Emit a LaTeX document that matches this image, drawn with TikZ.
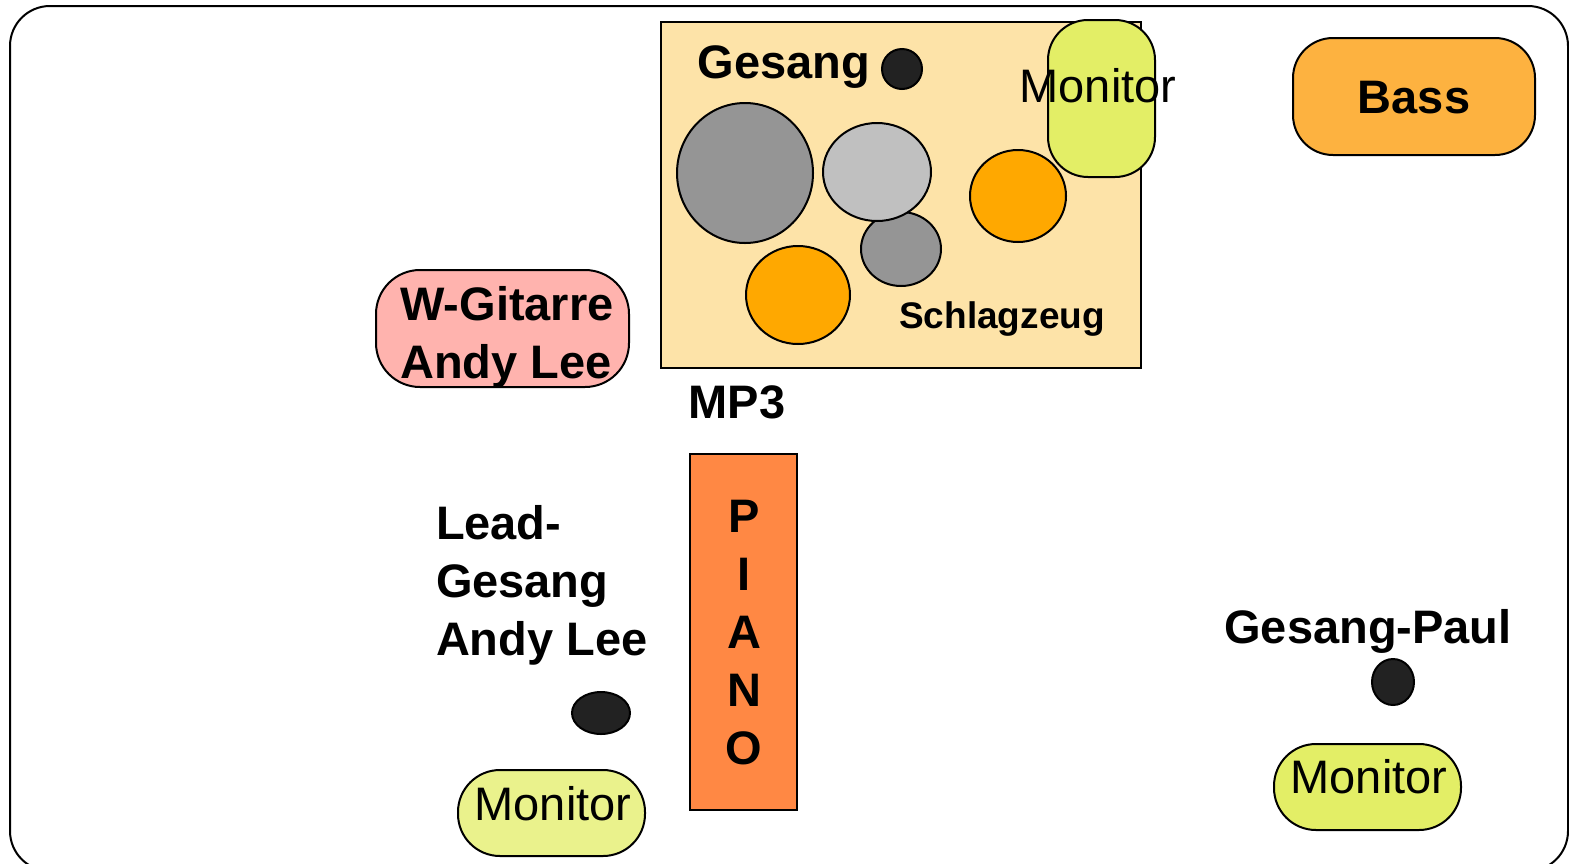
\documentclass[tikz,border=0pt]{standalone}
\usepackage{fontspec}
\setmainfont{Liberation Sans}
\definecolor{drumbg}{HTML}{FDE3A8}
\definecolor{monfill}{HTML}{E3EE66}
\definecolor{monlight}{HTML}{EAF28C}
\definecolor{gitfill}{HTML}{FFB3AE}
\definecolor{bassfill}{HTML}{FDB240}
\definecolor{pianofill}{HTML}{FF8844}
\definecolor{drumorange}{HTML}{FFA800}
\definecolor{drumgray}{HTML}{959595}
\definecolor{drumlight}{HTML}{C0C0C0}
\definecolor{micfill}{HTML}{222222}
\begin{document}
\begin{tikzpicture}[x=0.5pt,y=-0.5pt,line width=1pt,
    bigtext/.style={font=\bfseries\fontsize{23.5}{29}\selectfont,inner sep=0pt,anchor=base},
    montext/.style={font=\fontsize{23.5}{29}\selectfont,inner sep=0pt,anchor=base},
    smalltext/.style={font=\bfseries\fontsize{18.5}{22}\selectfont,inner sep=0pt,anchor=base}]
    \useasboundingbox (0,0) rectangle (1569,863);
    \begin{scope}
    \clip (0,0) rectangle (1569,863);
    \draw[rounded corners=20pt] (10,6) rectangle (1568,871);
    \end{scope}
    % Schlagzeug
    \filldraw[fill=drumbg] (661,22) rectangle (1141,368);
    \filldraw[fill=drumgray] (745,173) ellipse [x radius=68, y radius=70];
    \filldraw[fill=drumgray] (901,249) ellipse [x radius=40, y radius=37];
    \filldraw[fill=drumlight] (877,172) ellipse [x radius=54, y radius=49];
    \filldraw[fill=drumorange] (798,295) ellipse [x radius=52, y radius=49];
    \filldraw[fill=drumorange] (1018,196) ellipse [x radius=48, y radius=46];
    \filldraw[fill=micfill] (902,69) circle [radius=20];
    \node[bigtext] (gesang) at (784,78) {Gesang};
    \node[smalltext] (schlagzeug) at (1002,328) {Schlagzeug};
    \filldraw[fill=monfill,rounded corners=20pt] (1048,20) rectangle (1155,177);
    \node[montext] (montop) at (1098,102) {Monitor};
    % Bass
    \filldraw[fill=bassfill,rounded corners=20pt] (1293,38) rectangle (1535,155);
    \node[bigtext] (bass) at (1414,113) {Bass};
    % W-Gitarre
    \filldraw[fill=gitfill,rounded corners=22pt] (376,270) rectangle (629,387);
    \node[bigtext] (git1) at (507,320) {W-Gitarre};
    \node[bigtext] (git2) at (506,378) {Andy Lee};
    \node[bigtext] (mp3) at (737,418) {MP3};
    % Piano
    \filldraw[fill=pianofill] (690,454) rectangle (797,810);
    \foreach \ch [count=\i] in {P,I,A,N,O}
        \node[bigtext] (piano\i) at (744,474+58*\i) {\ch};
    % Lead-Gesang
    \node[bigtext,anchor=base west] (lead1) at (435,539) {Lead-};
    \node[bigtext,anchor=base west] (lead2) at (435,597) {Gesang};
    \node[bigtext,anchor=base west] (lead3) at (435,655) {Andy Lee};
    \filldraw[fill=micfill] (601,713) ellipse [x radius=29, y radius=21];
    \filldraw[fill=monlight,rounded corners=21pt] (458,770) rectangle (645,856);
    \node[montext] (monleft) at (553,820) {Monitor};
    % Gesang-Paul
    \node[bigtext] (paul) at (1368,643) {Gesang-Paul};
    \filldraw[fill=micfill] (1393,682) ellipse [x radius=21, y radius=23];
    \filldraw[fill=monfill,rounded corners=21pt] (1274,744) rectangle (1461,830);
    \node[montext] (monright) at (1369,793) {Monitor};
\end{tikzpicture}
\end{document}
